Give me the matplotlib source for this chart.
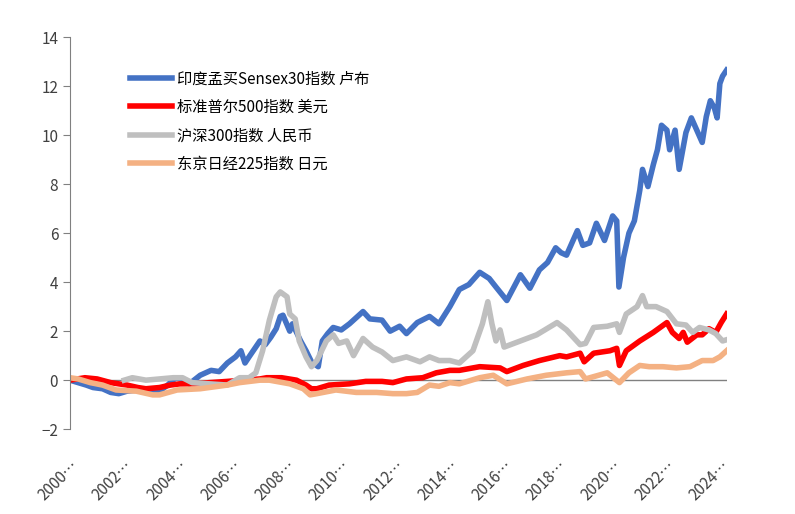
import matplotlib
matplotlib.use("Agg")
import matplotlib.pyplot as plt

plt.rcParams["font.family"] = ["Noto Sans CJK SC", "DejaVu Sans"]

# Sensex 30 (INR)
sensex_t = [2000.0, 2000.3, 2000.6, 2000.85, 2001.2, 2001.5, 2001.8, 2002.1, 2002.5, 2002.9,
            2003.3, 2003.6, 2003.9, 2004.1, 2004.4, 2004.8, 2005.2, 2005.5, 2005.8, 2006.1,
            2006.3, 2006.45, 2006.6, 2007.0, 2007.2, 2007.4, 2007.6, 2007.75, 2007.85, 2008.1,
            2008.2, 2008.5, 2008.7, 2008.9, 2009.15, 2009.3, 2009.5, 2009.7, 2010.0, 2010.3,
            2010.8, 2011.05, 2011.5, 2011.8, 2012.15, 2012.4, 2012.8, 2013.25, 2013.6, 2014.0,
            2014.35, 2014.7, 2015.1, 2015.45, 2015.7, 2016.1, 2016.6, 2016.95, 2017.3, 2017.6,
            2017.9, 2018.1, 2018.3, 2018.7, 2018.9, 2019.15, 2019.4, 2019.7, 2020.0, 2020.15,
            2020.23, 2020.4, 2020.6, 2020.8, 2021.0, 2021.1, 2021.3, 2021.5, 2021.65, 2021.8,
            2022.0, 2022.1, 2022.3, 2022.45, 2022.7, 2022.9, 2023.1, 2023.3, 2023.45, 2023.6,
            2023.75, 2023.85, 2023.95, 2024.05, 2024.2]
sensex_v = [0.0, -0.1, -0.2, -0.3, -0.35, -0.5, -0.55, -0.45, -0.4, -0.5,
            -0.45, -0.2, 0.1, 0.05, -0.15, 0.2, 0.4, 0.35, 0.7, 0.95,
            1.2, 0.7, 0.95, 1.6, 1.45, 1.75, 2.1, 2.6, 2.65, 2.0,
            2.3, 1.6, 1.2, 0.75, 0.55, 1.6, 1.9, 2.15, 2.05, 2.3,
            2.8, 2.5, 2.45, 2.0, 2.2, 1.9, 2.35, 2.6, 2.3, 3.0,
            3.7, 3.9, 4.4, 4.15, 3.8, 3.25, 4.3, 3.75, 4.5, 4.8,
            5.4, 5.2, 5.1, 6.1, 5.5, 5.6, 6.4, 5.7, 6.7, 6.5,
            3.8, 5.0, 6.0, 6.5, 7.75, 8.6, 7.9, 8.8, 9.4, 10.4,
            10.2, 9.4, 10.2, 8.6, 10.1, 10.7, 10.2, 9.7, 10.75, 11.4,
            11.1, 10.7, 12.1, 12.4, 12.65]

# S&P 500 (USD)
spx_t = [2000.0, 2000.55, 2001.0, 2001.5, 2001.8, 2002.1, 2002.5, 2002.8, 2003.3, 2003.7,
         2004.05, 2004.6, 2005.15, 2005.8, 2006.4, 2007.0, 2007.25, 2007.8, 2008.35, 2008.7,
         2008.9, 2009.1, 2009.55, 2010.3, 2010.9, 2011.5, 2011.9, 2012.4, 2013.0, 2013.5,
         2014.0, 2014.35, 2015.1, 2015.85, 2016.1, 2016.7, 2017.3, 2018.05, 2018.3, 2018.8,
         2018.95, 2019.3, 2019.9, 2020.15, 2020.25, 2020.5, 2021.0, 2021.5, 2022.0, 2022.2,
         2022.45, 2022.6, 2022.75, 2023.1, 2023.3, 2023.55, 2023.8, 2024.0, 2024.2]
spx_v = [0.0, 0.1, 0.05, -0.1, -0.15, -0.2, -0.3, -0.35, -0.3, -0.2,
         -0.15, -0.15, -0.1, -0.05, 0.0, 0.05, 0.1, 0.1, 0.0, -0.2,
         -0.35, -0.35, -0.2, -0.15, -0.05, -0.05, -0.1, 0.05, 0.1, 0.3,
         0.4, 0.4, 0.55, 0.5, 0.35, 0.6, 0.8, 1.0, 0.95, 1.1,
         0.75, 1.1, 1.2, 1.3, 0.6, 1.2, 1.6, 1.95, 2.35, 1.95,
         1.7, 1.95, 1.55, 1.85, 1.85, 2.1, 1.95, 2.35, 2.7]

# CSI 300 (CNY)
csi_t = [2002.0, 2002.3, 2002.8, 2003.3, 2003.8, 2004.15, 2004.5, 2005.15, 2005.8, 2006.25,
         2006.6, 2006.85, 2007.1, 2007.35, 2007.6, 2007.75, 2008.0, 2008.1, 2008.3, 2008.45,
         2008.7, 2008.9, 2009.1, 2009.45, 2009.7, 2009.9, 2010.2, 2010.45, 2010.8, 2011.15,
         2011.5, 2011.9, 2012.4, 2012.9, 2013.25, 2013.6, 2014.0, 2014.35, 2014.85, 2015.2,
         2015.4, 2015.55, 2015.7, 2015.85, 2016.0, 2016.6, 2017.2, 2017.95, 2018.3, 2018.8,
         2019.0, 2019.3, 2019.8, 2020.15, 2020.25, 2020.5, 2020.9, 2021.1, 2021.25, 2021.6,
         2022.0, 2022.35, 2022.7, 2022.95, 2023.2, 2023.55, 2023.8, 2024.05, 2024.2]
csi_v = [0.0, 0.1, 0.0, 0.05, 0.1, 0.1, -0.1, -0.15, -0.2, 0.1,
         0.1, 0.3, 1.2, 2.45, 3.4, 3.6, 3.4, 2.7, 2.5, 1.6,
         0.95, 0.55, 0.8, 1.6, 1.85, 1.5, 1.6, 1.0, 1.7, 1.35,
         1.15, 0.8, 0.95, 0.75, 0.95, 0.8, 0.8, 0.7, 1.2, 2.3,
         3.2, 2.3, 1.6, 2.05, 1.35, 1.6, 1.85, 2.35, 2.05, 1.45,
         1.5, 2.15, 2.2, 2.3, 1.95, 2.7, 3.0, 3.45, 3.0, 3.0,
         2.8, 2.3, 2.25, 1.95, 2.15, 2.05, 1.9, 1.6, 1.65]

# Nikkei 225 (JPY)
nikkei_t = [2000.0, 2000.3, 2000.75, 2001.2, 2001.7, 2002.45, 2003.05, 2003.3, 2003.95, 2004.8,
            2005.8, 2006.25, 2007.0, 2007.35, 2008.1, 2008.6, 2008.85, 2009.1, 2009.8, 2010.55,
            2011.3, 2011.9, 2012.4, 2012.8, 2013.25, 2013.6, 2014.0, 2014.35, 2015.1, 2015.6,
            2016.1, 2016.85, 2017.55, 2018.3, 2018.8, 2019.0, 2019.8, 2020.25, 2020.6, 2021.0,
            2021.35, 2021.85, 2022.35, 2022.85, 2023.3, 2023.7, 2023.95, 2024.2]
nikkei_v = [0.1, 0.05, -0.1, -0.2, -0.4, -0.45, -0.6, -0.6, -0.4, -0.35,
            -0.2, -0.1, 0.0, 0.0, -0.15, -0.35, -0.6, -0.55, -0.4, -0.5,
            -0.5, -0.55, -0.55, -0.5, -0.2, -0.25, -0.1, -0.15, 0.1, 0.2,
            -0.15, 0.05, 0.2, 0.3, 0.35, 0.05, 0.3, -0.1, 0.3, 0.6,
            0.55, 0.55, 0.5, 0.55, 0.8, 0.8, 0.95, 1.2]

labels = ["印度孟买Sensex30指数 卢布", "标准普尔500指数 美元",
          "沪深300指数 人民币", "东京日经225指数 日元"]
colors = ["#4472C4", "#FF0000", "#BFBFBF", "#F4B183"]

year_ticks = list(range(2000, 2025, 2))
year_labels = [f"{y}…" for y in year_ticks]

fig = plt.figure(figsize=(7.95, 5.14), dpi=100)
ax = fig.add_axes([0.088, 0.165, 0.826, 0.763])

series = [(sensex_t, sensex_v), (spx_t, spx_v), (csi_t, csi_v), (nikkei_t, nikkei_v)]
for (t, v), lab, c in zip(series, labels, colors):
    ax.plot(t, v, color=c, linewidth=4, label=lab, solid_joinstyle="round")

ax.axhline(0, color="#808080", linewidth=1, zorder=0.5)

ax.set_xlim(2000, 2024.2)
ax.set_ylim(-2, 14)
ax.set_yticks(range(-2, 15, 2))
ax.set_xticks(year_ticks)
ax.set_xticklabels(year_labels, rotation=45, ha="right", rotation_mode="anchor")

for s in ["top", "right", "bottom"]:
    ax.spines[s].set_visible(False)
ax.spines["left"].set_color("#808080")
ax.tick_params(axis="y", colors="#808080", labelcolor="#404040", labelsize=11, length=5)
ax.tick_params(axis="x", length=0, labelcolor="#404040", labelsize=11, pad=20)

ax.legend(loc="upper left", bbox_to_anchor=(0.07, 0.95), frameon=False, fontsize=11,
          handlelength=2.8, handletextpad=0.3, labelspacing=0.75)

plt.savefig("out.png", dpi=100)
